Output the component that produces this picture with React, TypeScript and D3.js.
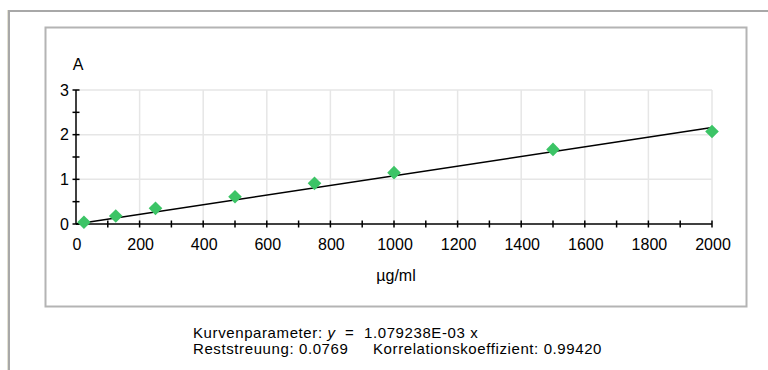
import React, { useEffect, useRef } from "react";
import * as d3 from "d3";

// measured standards: concentration (µg/ml) and absorbance (A)
const concentrations = [25, 125, 250, 500, 750, 1000, 1500, 2000];
const absorbances = [0.04, 0.18, 0.35, 0.61, 0.91, 1.15, 1.67, 2.07];
const slope = 1.079238e-3;
const xTicks = [0, 200, 400, 600, 800, 1000, 1200, 1400, 1600, 1800, 2000];
const yTicks = [0, 1, 2, 3];

const fitLabel = "Kurvenparameter: ";
const fitFormula = "  =  1.079238E-03 x";
const residual = "Reststreuung: 0.0769";
const correlation = "Korrelationskoeffizient: 0.99420";

const App = () => {
  const ref = useRef<SVGSVGElement>(null);

  useEffect(() => {
    const svg = d3.select(ref.current);
    svg.selectAll("*").remove();
    const font = "'Liberation Sans', Arial, sans-serif";

    const x = d3.scaleLinear().domain([0, 2000]).range([76, 712]);
    const y = d3.scaleLinear().domain([0, 3]).range([224, 90]);

    // outer window frame
    svg.append("rect").attr("x", 9).attr("y", 11).attr("width", 770).attr("height", 370)
      .attr("fill", "#fff").attr("stroke", "#a8a8a8").attr("stroke-width", 2);
    svg.append("line").attr("x1", 7.5).attr("x2", 7.5).attr("y1", 10).attr("y2", 370)
      .attr("stroke", "#e4e2d4");

    // inner plot box
    svg.append("rect").attr("x", 45.5).attr("y", 27.5).attr("width", 701).attr("height", 279)
      .attr("fill", "#fff").attr("stroke", "#b4b4b4").attr("stroke-width", 2);

    // grid
    const grid = svg.append("g").attr("stroke", "#e6e6e6").attr("stroke-width", 1.5);
    xTicks.filter(d => d > 0).forEach(d => {
      grid.append("line").attr("x1", x(d)).attr("x2", x(d)).attr("y1", y(3)).attr("y2", y(0));
    });
    yTicks.filter(d => d > 0).forEach(d => {
      grid.append("line").attr("x1", x(0)).attr("x2", x(2000)).attr("y1", y(d)).attr("y2", y(d));
    });

    // axes with crossing ticks
    const ax = svg.append("g").attr("stroke", "#000").attr("stroke-width", 1.5);
    ax.append("line").attr("x1", x(0)).attr("x2", x(0)).attr("y1", y(3)).attr("y2", y(0));
    ax.append("line").attr("x1", x(0)).attr("x2", x(2000)).attr("y1", y(0)).attr("y2", y(0));
    d3.range(0, 3.01, 0.5).forEach(d => {
      ax.append("line").attr("x1", x(0) - 3.5).attr("x2", x(0) + 3.5).attr("y1", y(d)).attr("y2", y(d));
    });
    d3.range(100, 2001, 100).forEach(d => {
      ax.append("line").attr("x1", x(d)).attr("x2", x(d)).attr("y1", y(0) - 3.5).attr("y2", y(0) + 3.5);
    });

    // tick labels
    svg.append("g").selectAll("text").data(yTicks).join("text")
      .attr("x", 69).attr("y", d => y(d)).attr("dy", "0.36em").attr("text-anchor", "end")
      .attr("font-family", font).attr("font-size", 16).attr("fill", "#000")
      .text(d => d);
    svg.append("g").selectAll("text").data(xTicks).join("text")
      .attr("x", d => x(d) + 1).attr("y", 244).attr("dy", "0.36em").attr("text-anchor", "middle")
      .attr("font-family", font).attr("font-size", 16).attr("fill", "#000")
      .text(d => d);

    svg.append("text").attr("x", 78).attr("y", 64).attr("dy", "0.36em").attr("text-anchor", "middle")
      .attr("font-family", font).attr("font-size", 16).text("A");
    svg.append("text").attr("x", 396).attr("y", 275).attr("dy", "0.36em").attr("text-anchor", "middle")
      .attr("font-family", font).attr("font-size", 16).text("µg/ml");

    // regression line
    const line = d3.line<number>().x(d => x(d)).y(d => y(slope * d));
    svg.append("path").datum([0, 2000]).attr("d", line)
      .attr("fill", "none").attr("stroke", "#000").attr("stroke-width", 1.5);

    // points
    const diamond = d3.symbol().type(d3.symbolDiamond2).size(118);
    svg.append("g").selectAll("path").data(concentrations).join("path")
      .attr("transform", (d, i) => `translate(${x(d)},${y(absorbances[i])})`)
      .attr("d", diamond).attr("fill", "#3cc466");

    // fit info
    const t1 = svg.append("text").attr("x", 193).attr("y", 333).attr("dy", "0.36em")
      .attr("font-family", font).attr("font-size", 15).attr("fill", "#000")
      .attr("letter-spacing", 0.6).style("white-space", "pre");
    t1.append("tspan").text(fitLabel);
    t1.append("tspan").attr("font-style", "italic").text("y");
    t1.append("tspan").text(fitFormula);

    const t2 = svg.append("text").attr("y", 349).attr("dy", "0.36em")
      .attr("font-family", font).attr("font-size", 15).attr("fill", "#000")
      .attr("letter-spacing", 0.6);
    t2.append("tspan").attr("x", 193).text(residual);
    t2.append("tspan").attr("x", 373).text(correlation);
  }, []);

  return (
    <svg ref={ref} width={768} height={370}
      style={{ position: "absolute", left: 0, top: 0, background: "#fff" }} />
  );
};

export default App;
